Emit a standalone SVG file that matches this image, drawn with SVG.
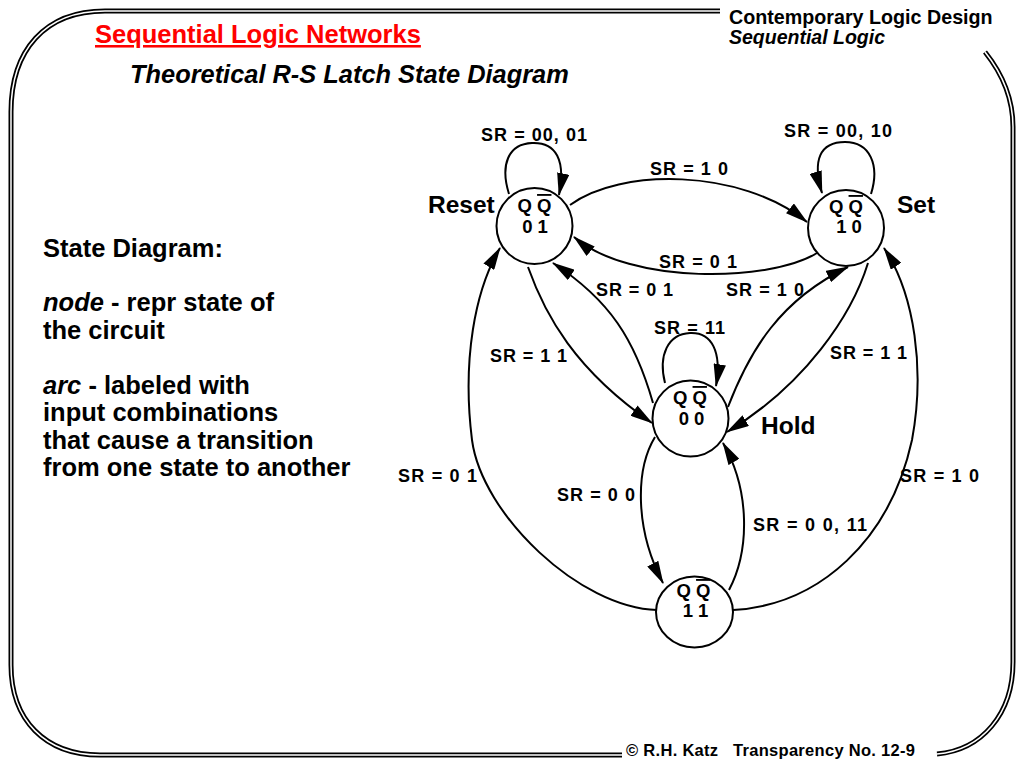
<svg xmlns="http://www.w3.org/2000/svg" width="1024" height="768" viewBox="0 0 1024 768">
<defs>
<style>
text{font-family:"Liberation Sans",Arial,Helvetica,sans-serif;font-weight:bold;fill:#000}
.frameO{fill:none;stroke:#000;stroke-width:5;stroke-linecap:butt}
.frameI{fill:none;stroke:#fff;stroke-width:1.5}
.st{fill:#fff;stroke:#000;stroke-width:2}
.nt{font-size:18.5px;text-anchor:middle}
.big{font-size:24.5px}
.lbl{font-size:18px}
.side{font-size:25.5px}
.e{fill:none;stroke:#000;stroke-width:2}
.arr{marker-end:url(#ah)}
.ov{text-decoration:overline}
</style>
<marker id="ah" viewBox="0 0 22 12" markerWidth="23" markerHeight="12.5" refX="21" refY="6" orient="auto" markerUnits="userSpaceOnUse">
<path d="M0,0 L22,6 L0,12 z" fill="#000"/>
</marker>
</defs>
<rect width="1024" height="768" fill="#fff"/>

<g id="frame">
<path class="frameO" d="M720,11 H105 C45,11 11,50 11,112 V665 C11,720 45,755 100,755 H622"/>
<path class="frameI" d="M720,11 H105 C45,11 11,50 11,112 V665 C11,720 45,755 100,755 H622"/>
<path class="frameO" d="M985,52 C1001,72 1013,97 1013,127 V662 C1013,714 982,750 937,754"/>
<path class="frameI" d="M985,52 C1001,72 1013,97 1013,127 V662 C1013,714 982,750 937,754"/>
</g>

<g id="header">
<text x="95" y="43" style="font-size:25.5px;fill:#f00;text-decoration:underline">Sequential Logic Networks</text>
<text x="130" y="83" style="font-size:25.4px;font-style:italic">Theoretical R-S Latch State Diagram</text>
<text x="729" y="24" style="font-size:19.7px">Contemporary Logic Design</text>
<text x="729" y="44" style="font-size:19.5px;font-style:italic">Sequential Logic</text>
<text x="626" y="756" style="font-size:16.5px" xml:space="preserve" textLength="289" lengthAdjust="spacing">© R.H. Katz   Transparency No. 12-9</text>
</g>

<g id="notes" class="side">
<text class="side" x="43" y="257">State Diagram:</text>
<text class="side" x="43" y="311"><tspan style="font-style:italic">node</tspan> - repr state of</text>
<text class="side" x="43" y="339">the circuit</text>
<text class="side" x="43" y="394"><tspan style="font-style:italic">arc</tspan> - labeled with</text>
<text class="side" x="43" y="421">input combinations</text>
<text class="side" x="43" y="449">that cause a transition</text>
<text class="side" x="43" y="476">from one state to another</text>
</g>

<g id="connectors">
<path class="e arr" d="M509,194 C500,165 508,144 532,143 C556,142 566,160 559,195"/>
<path class="e arr" d="M871,194 C880,165 870,142 845,142 C820,142 812,160 822,193"/>
<path class="e arr" d="M665,383 C658,355 668,334 690,333 C712,332 722,352 716,386"/>
<path class="e arr" d="M570,205 C620,168 740,168 807,222"/>
<path class="e arr" d="M817,253 C770,282 630,285 574,237"/>
<path class="e arr" d="M653,403 C635,340 610,300 553,263"/>
<path class="e arr" d="M528,267 C545,315 575,370 652,423"/>
<path class="e arr" d="M728,407 C750,350 780,300 848,267"/>
<path class="e arr" d="M868,263 C852,315 805,385 727,432"/>
<path class="e arr" d="M655,437 C635,470 635,530 663,583"/>
<path class="e arr" d="M729,590 C750,550 750,490 723,443"/>
<path class="e arr" d="M657,610 C580,608 482,515 472,440 C462,360 475,290 500,248"/>
<path class="e arr" d="M733,610 C820,605 890,540 912,440 C925,370 915,295 884,248"/>

<text class="lbl" x="481" y="141" textLength="106" lengthAdjust="spacing">SR = 00, 01</text>
<text class="lbl" x="784" y="137" textLength="108" lengthAdjust="spacing">SR = 00, 10</text>
<text class="lbl" x="650" y="175" textLength="78" lengthAdjust="spacing">SR = 1 0</text>
<text class="lbl" x="659" y="268" textLength="78" lengthAdjust="spacing">SR = 0 1</text>
<text class="lbl" x="596" y="296" textLength="77" lengthAdjust="spacing">SR = 0 1</text>
<text class="lbl" x="726" y="296" textLength="78" lengthAdjust="spacing">SR = 1 0</text>
<text class="lbl" x="654" y="334" textLength="71" lengthAdjust="spacing">SR = 11</text>
<text class="lbl" x="490" y="362" textLength="77" lengthAdjust="spacing">SR = 1 1</text>
<text class="lbl" x="830" y="359" textLength="77" lengthAdjust="spacing">SR = 1 1</text>
<text class="lbl" x="398" y="482" textLength="79" lengthAdjust="spacing">SR = 0 1</text>
<text class="lbl" x="557" y="501" textLength="78" lengthAdjust="spacing">SR = 0 0</text>
<text class="lbl" x="753" y="531" textLength="114" lengthAdjust="spacing">SR = 0 0, 11</text>
<text class="lbl" x="900" y="482" textLength="79" lengthAdjust="spacing">SR = 1 0</text>
</g>

<g id="node-reset">
<circle class="st" cx="534.5" cy="226" r="38"/>
<text class="nt" x="534.5" y="212">Q <tspan class="ov">Q</tspan></text>
<text class="nt" x="535" y="233">0 1</text>
<text class="big" x="428" y="213">Reset</text>
</g>

<g id="node-set">
<circle class="st" cx="846" cy="228" r="38"/>
<text class="nt" x="846" y="213">Q <tspan class="ov">Q</tspan></text>
<text class="nt" x="849" y="233">1 0</text>
<text class="big" x="897" y="213">Set</text>
</g>

<g id="node-hold">
<circle class="st" cx="690.5" cy="418.5" r="38"/>
<text class="nt" x="690" y="404">Q <tspan class="ov">Q</tspan></text>
<text class="nt" x="691.5" y="425">0 0</text>
<text class="big" x="761" y="434">Hold</text>
</g>

<g id="node-11">
<ellipse class="st" cx="694.5" cy="612" rx="38.5" ry="35.5"/>
<text class="nt" x="693.5" y="597">Q <tspan class="ov">Q</tspan></text>
<text class="nt" x="695.5" y="617">1 1</text>
</g>
</svg>
